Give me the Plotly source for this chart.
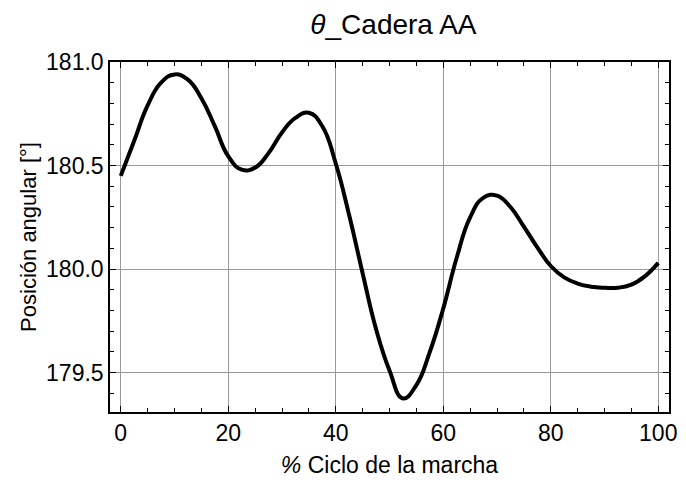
import plotly.graph_objects as go

# Gait cycle percentage and hip abduction/adduction angle (degrees)
ciclo = [0, 2.5, 5, 7.5, 10, 12.5, 15, 17.5, 20, 22.5, 25, 27.5, 30, 32.5,
         35, 37.5, 40, 42.5, 45, 47.5, 50, 52.5, 55, 57.5, 60, 62.5, 65,
         67.5, 70, 72.5, 75, 77.5, 80, 82.5, 85, 87.5, 90, 92.5, 95, 97.5, 100]
angulo = [180.45, 180.62, 180.79, 180.90, 180.94, 180.915, 180.825, 180.69,
          180.545, 180.48, 180.49, 180.56, 180.66, 180.73, 180.755, 180.69,
          180.51, 180.26, 179.98, 179.71, 179.51, 179.375, 179.44, 179.60,
          179.81, 180.055, 180.25, 180.345, 180.355, 180.30, 180.205, 180.105,
          180.015, 179.96, 179.93, 179.915, 179.91, 179.91, 179.925, 179.965,
          180.03]

x_ticks = [0, 20, 40, 60, 80, 100]
y_ticks = [179.5, 180.0, 180.5, 181.0]

FONT = "Liberation Sans, Arial, sans-serif"

fig = go.Figure()
fig.add_trace(go.Scatter(
    x=ciclo, y=angulo, mode="lines",
    line=dict(color="black", width=4, shape="spline", smoothing=1.3),
    showlegend=False, hoverinfo="skip",
))

axis_common = dict(
    showline=True, linecolor="black", linewidth=1.5, mirror="ticks",
    ticks="inside", ticklen=6, tickcolor="black", tickwidth=1,
    showgrid=True, gridcolor="#9a9a9a", gridwidth=1,
    zeroline=False, ticklabeloverflow="allow",
    tickfont=dict(family=FONT, size=23, color="black"),
)

fig.update_layout(
    width=686, height=485,
    margin=dict(l=110, r=9, t=62, b=73),
    paper_bgcolor="white", plot_bgcolor="white",
    font=dict(family=FONT, color="black"),
    title=dict(
        text="<i>θ</i>_Cadera AA",
        font=dict(family=FONT, size=28, color="black"),
        x=0.5735, xanchor="center", xref="container",
        y=0.95, yanchor="middle", yref="container",
    ),
    xaxis=dict(
        range=[-2, 102], tickvals=x_ticks, ticktext=[str(v) for v in x_ticks],
        minor=dict(dtick=5, tick0=0, ticks="inside", ticklen=4,
                   tickcolor="black", showgrid=False),
        title=dict(text="<i>%</i> Ciclo de la marcha",
                   font=dict(family=FONT, size=23, color="black"), standoff=12),
        **axis_common,
    ),
    yaxis=dict(
        range=[179.31, 181.0], tickvals=y_ticks,
        ticktext=[f"{v:.1f}" for v in y_ticks],
        minor=dict(dtick=0.1, tick0=179.5, ticks="inside", ticklen=4,
                   tickcolor="black", showgrid=False),
        title=dict(text="Posición angular [°]",
                   font=dict(family=FONT, size=22, color="black"), standoff=3),
        **axis_common,
    ),
)

fig.write_html("out.html")
